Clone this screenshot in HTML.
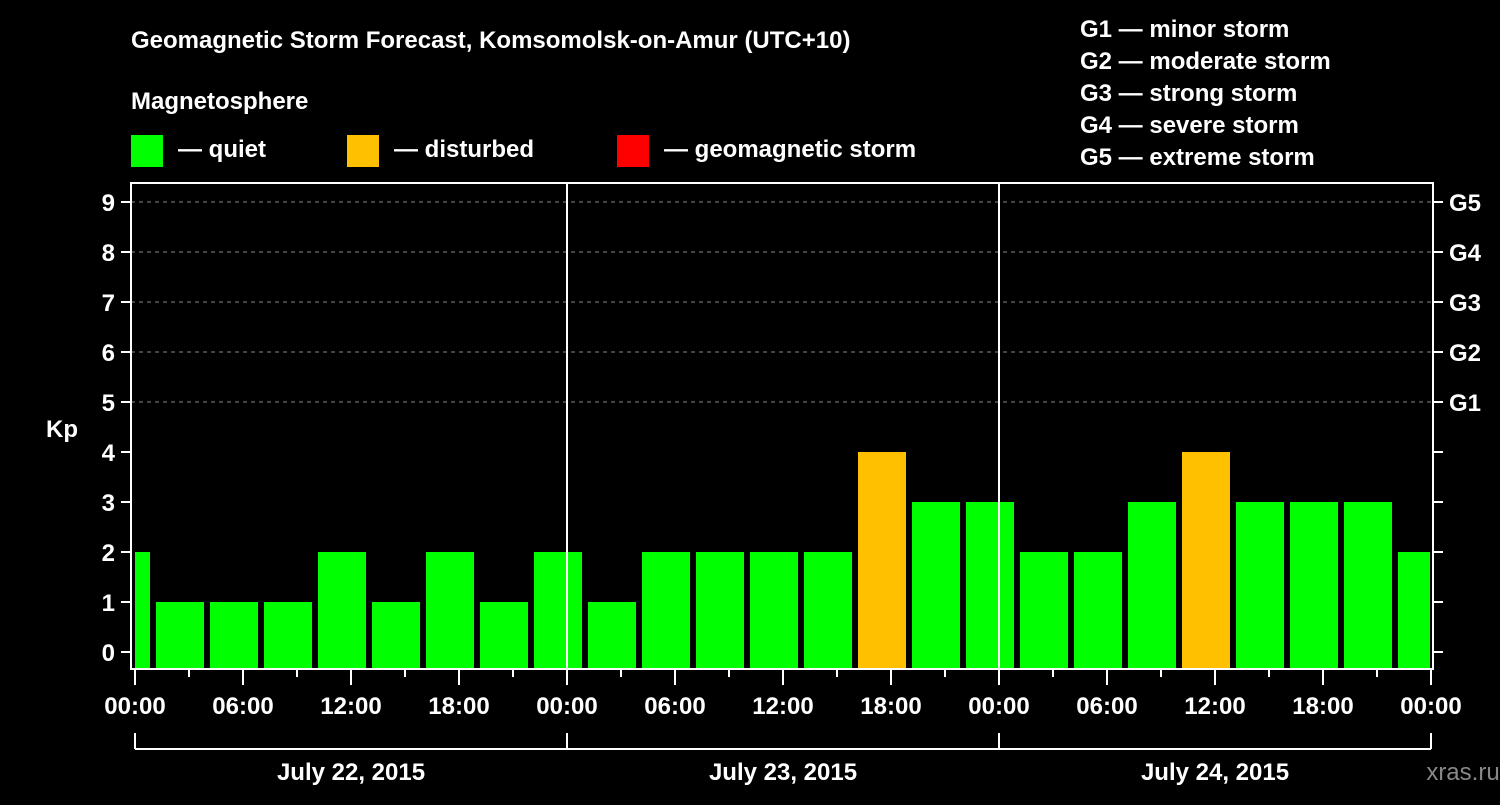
<!DOCTYPE html>
<html><head><meta charset="utf-8"><style>
body{margin:0;background:#000;width:1500px;height:800px;overflow:hidden}
svg text{font-family:"Liberation Sans",Arial,sans-serif;font-weight:bold;fill:#fff}
</style></head><body>
<svg id="c" width="1500" height="800">
<text x="131" y="48" font-size="24">Geomagnetic Storm Forecast, Komsomolsk-on-Amur (UTC+10)</text>
<text x="131" y="109" font-size="24">Magnetosphere</text>
<g><rect x="131" y="135" width="32" height="32" fill="#00ff00"/><text x="178" y="157" font-size="24">— quiet</text></g>
<g><rect x="347" y="135" width="32" height="32" fill="#ffc000"/><text x="394" y="157" font-size="24">— disturbed</text></g>
<g><rect x="617" y="135" width="32" height="32" fill="#ff0000"/><text x="664" y="157" font-size="24">— geomagnetic storm</text></g>
<g font-size="24">
<text x="1080" y="37">G1 — minor storm</text>
<text x="1080" y="69">G2 — moderate storm</text>
<text x="1080" y="101">G3 — strong storm</text>
<text x="1080" y="133">G4 — severe storm</text>
<text x="1080" y="165">G5 — extreme storm</text>
</g>
<text x="62" y="437" font-size="24" text-anchor="middle">Kp</text>
<text x="1463" y="780" font-size="24" text-anchor="middle" fill="#888" style="fill:#888;font-weight:normal">xras.ru</text>
<g id="plot"></g>
</svg>
<script>
const kpValues=[2,1,1,1,2,1,2,1,2,1,2,2,2,2,4,3,3,2,2,3,4,3,3,3,2];
const yTicks=[0,1,2,3,4,5,6,7,8,9];
const gLabels=["G1","G2","G3","G4","G5"];
const xTickLabels=["00:00","06:00","12:00","18:00","00:00","06:00","12:00","18:00","00:00","06:00","12:00","18:00","00:00"];
const dayLabels=["July 22, 2015","July 23, 2015","July 24, 2015"];
const L=131,R=1433,T=183,B=669,X0=135,HPX=18;
const y=v=>652-v*50;
const x=h=>X0+h*HPX;
const ns="http://www.w3.org/2000/svg";
const g=document.getElementById('plot');
function mk(t,a){const e=document.createElementNS(ns,t);for(const k in a)e.setAttribute(k,a[k]);g.appendChild(e);return e;}
// grid
for(let v=5;v<=9;v++){const e=mk('line',{x1:L,x2:R,y1:y(v),y2:y(v),stroke:'#888','stroke-dasharray':'4,4'});

}
// bars
kpValues.forEach((v,i)=>{
 const c=x(i*3-0.5);let x1=c-24,x2=c+24;x1=Math.max(x1,X0);x2=Math.min(x2,R-3);
 const col=v>=5?'#ff0000':(v>=4?'#ffc000':'#00ff00');
 const r=mk('rect',{x:x1,y:y(v),width:x2-x1,height:B-y(v),fill:col});
 
 
});
// day separators
[1,2].forEach(d=>{const e=mk('line',{x1:x(d*24),x2:x(d*24),y1:T,y2:B,stroke:'#fff','stroke-width':2});

});
// frame
const f=mk('rect',{x:L,y:T,width:R-L,height:B-T,fill:'none',stroke:'#fff','stroke-width':2});


// y ticks
yTicks.forEach(v=>{
 mk('line',{x1:L-10,x2:L,y1:y(v),y2:y(v),stroke:'#fff','stroke-width':2});
 mk('line',{x1:R,x2:R+10,y1:y(v),y2:y(v),stroke:'#fff','stroke-width':2});
 const t=mk('text',{x:115,y:y(v)+9,'font-size':24,'text-anchor':'end'});t.textContent=v;
 
 
});
gLabels.forEach((s,i)=>{const t=mk('text',{x:1449,y:y(i+5)+9,'font-size':24});t.textContent=s;

});
// x ticks
for(let h=0;h<=72;h+=3){const long=h%6===0;mk('line',{x1:x(h),x2:x(h),y1:B,y2:B+(long?16:8),stroke:'#fff','stroke-width':2});}
xTickLabels.forEach((s,i)=>{const t=mk('text',{x:x(i*6),y:714,'font-size':24,'text-anchor':'middle'});t.textContent=s;

});
// day bracket
mk('line',{x1:x(0),x2:x(72),y1:749,y2:749,stroke:'#fff','stroke-width':2});
for(let d=0;d<=3;d++)mk('line',{x1:x(d*24),x2:x(d*24),y1:733,y2:749,stroke:'#fff','stroke-width':2});
dayLabels.forEach((s,i)=>{const t=mk('text',{x:x(i*24+12),y:780,'font-size':24,'text-anchor':'middle'});t.textContent=s;

});
</script>
</body></html>
